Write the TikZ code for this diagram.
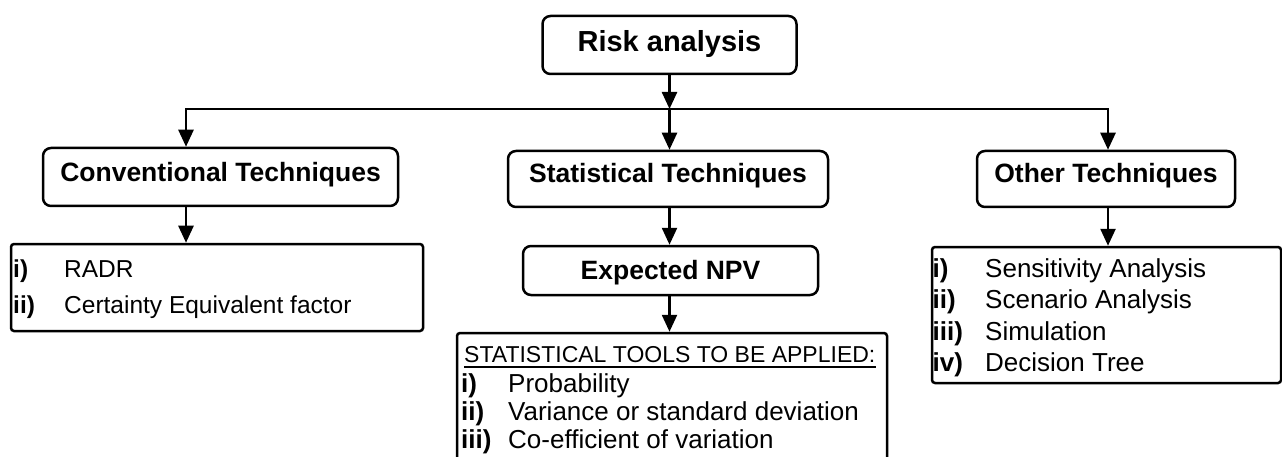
\documentclass[tikz,border=0pt]{standalone}
\usepackage{fontspec}
\setmainfont{Liberation Sans}
\usetikzlibrary{arrows.meta}
\begin{document}
\begin{tikzpicture}[x=1pt,y=-1pt,
  lw/.style={line width=2.5pt},
  title/.style={draw,line width=2.5pt,rounded corners=8pt,inner sep=0pt,
    font=\fontsize{26.5}{30}\selectfont\bfseries,text depth=0pt},
  listbox/.style={draw,line width=2.5pt,rounded corners=3pt,inner sep=0pt},
  item/.style={anchor=base west,inner sep=0pt},
  arr/.style={line width=2.5pt,-{Triangle[length=17pt,width=15pt]}},
]
\useasboundingbox (0,0) rectangle (1282,457);
\clip (0,0) rectangle (1282,457);

% title boxes
\node[title,font=\fontsize{29}{32}\selectfont\bfseries,minimum width=254pt,minimum height=58pt,text height=14pt] (risk) at (669.5,45) {Risk analysis};
\node[title,minimum width=355pt,minimum height=58pt,text height=10pt] (conv) at (220.5,177) {Conventional Techniques};
\node[title,minimum width=320pt,minimum height=56pt,text height=8pt] (stat) at (668,179) {Statistical Techniques};
\node[title,minimum width=258pt,minimum height=56pt,text height=8pt] (other) at (1106,179) {Other Techniques};
\node[title,minimum width=295pt,minimum height=49pt,text height=17pt] (enpv) at (670.5,270.5) {Expected NPV};

% list boxes
\node[listbox,minimum width=412pt,minimum height=87pt] (convlist) at (217,287.5) {};
\node[listbox,minimum width=430pt,minimum height=150pt] (tools) at (672,408) {};
\node[listbox,minimum width=349pt,minimum height=136pt] (otherlist) at (1106.5,315) {};

% conventional list
\begin{scope}[every node/.style={item,font=\fontsize{24.5}{28}\selectfont}]
\node (c1) at (13,277) {\makebox[51pt][l]{\bfseries i)}RADR};
\node (c2) at (13,313) {\makebox[51pt][l]{\bfseries ii)}Certainty Equivalent factor};
\end{scope}

% statistical tools list
\node[item,font=\fontsize{23}{26}\selectfont] (hdr) at (464,362) {STATISTICAL TOOLS TO BE APPLIED:};
\draw[line width=2pt] ([yshift=-5pt]hdr.base west) -- ([yshift=-5pt]hdr.base east);
\begin{scope}[every node/.style={item,font=\fontsize{26}{30}\selectfont}]
\node (t1) at (461,392) {\makebox[47pt][l]{\bfseries i)}Probability};
\node (t2) at (461,420) {\makebox[47pt][l]{\bfseries ii)}Variance or standard deviation};
\node (t3) at (461,448) {\makebox[47pt][l]{\bfseries iii)}Co-efficient of variation};
\end{scope}

% other list
\begin{scope}[every node/.style={item,font=\fontsize{26}{30}\selectfont}]
\node (o1) at (932.5,277) {\makebox[52.5pt][l]{\bfseries i)}Sensitivity Analysis};
\node (o2) at (932.5,308) {\makebox[52.5pt][l]{\bfseries ii)}Scenario Analysis};
\node (o3) at (932.5,340) {\makebox[52.5pt][l]{\bfseries iii)}Simulation};
\node (o4) at (932.5,371) {\makebox[52.5pt][l]{\bfseries iv)}Decision Tree};
\end{scope}

% connectors
\coordinate (bL) at (186,109);
\coordinate (bM) at (669.5,109);
\coordinate (bR) at (1108,109);
\draw[arr] (risk.south) -- (bM);
\draw[lw,line cap=rect] (bL) -- (bR);
\draw[arr] (bL) -- (bL |- conv.north);
\draw[arr] (bM) -- (bM |- stat.north);
\draw[arr] (bR) -- (bR |- other.north);
\draw[arr] (bL |- conv.south) -- (bL |- convlist.north);
\draw[arr] (bM |- stat.south) -- (bM |- enpv.north);
\draw[arr] (bM |- enpv.south) -- (bM |- tools.north);
\draw[arr] (bR |- other.south) -- (bR |- otherlist.north);
\end{tikzpicture}
\end{document}
